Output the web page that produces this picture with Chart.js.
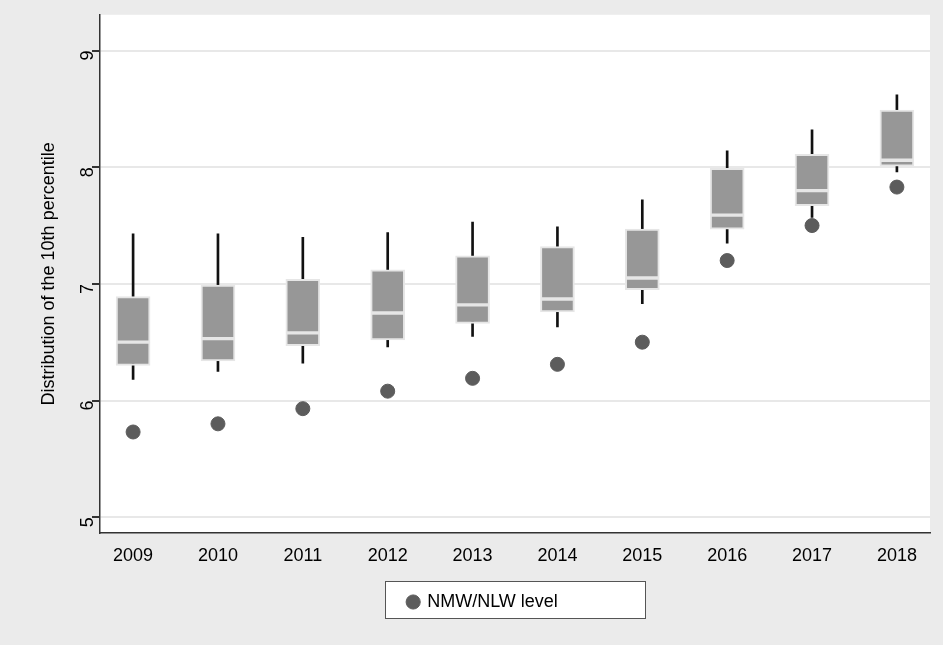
<!DOCTYPE html>
<html>
<head>
<meta charset="utf-8">
<script src="https://cdn.jsdelivr.net/npm/chart.js@4"></script>
<style>
  html, body { margin: 0; padding: 0; background: #ebebeb; }
  #wrap { width: 943px; height: 645px; }
</style>
</head>
<body>
<div id="wrap"><canvas id="grafico"></canvas></div>
<script>
// valores
const anos = [2009, 2010, 2011, 2012, 2013, 2014, 2015, 2016, 2017, 2018];
const bigodeSup = [7.43, 7.43, 7.40, 7.44, 7.53, 7.49, 7.72, 8.14, 8.32, 8.62];
const q3 = [6.89, 6.99, 7.04, 7.12, 7.24, 7.32, 7.47, 7.99, 8.11, 8.49];
const mediana = [6.50, 6.53, 6.58, 6.75, 6.82, 6.87, 7.05, 7.59, 7.80, 8.06];
const q1 = [6.30, 6.34, 6.47, 6.52, 6.66, 6.76, 6.95, 7.47, 7.67, 8.01];
const bigodeInf = [6.18, 6.25, 6.32, 6.46, 6.55, 6.63, 6.83, 7.35, 7.57, 7.96];
const nivelNMW = [5.73, 5.80, 5.93, 6.08, 6.19, 6.31, 6.50, 7.20, 7.50, 7.83];
const ticksY = [5, 6, 7, 8, 9];

// fundo branco só na área do gráfico + moldura da legenda
const fundo = {
  id: "fundo",
  beforeDraw(chart) {
    const { ctx, chartArea: a } = chart;
    ctx.save();
    ctx.fillStyle = "#ffffff";
    ctx.fillRect(a.left, a.top, a.right - a.left, a.bottom - a.top);
    const lg = chart.legend;
    ctx.fillRect(385, lg.top, 260, lg.height - 2);
    ctx.strokeStyle = "#555";
    ctx.lineWidth = 1;
    ctx.strokeRect(385.5, lg.top + 0.5, 260, lg.height - 3);
    ctx.restore();
  },
};

const serie = (arrA, arrB) => anos.map((a, i) => ({ x: a, y: [arrA[i], arrB[i]] }));

const grafico = new Chart(document.getElementById("grafico"), {
  data: {
    datasets: [
      {
        type: "scatter",
        label: "NMW/NLW level",
        data: anos.map((a, i) => ({ x: a, y: nivelNMW[i] })),
        pointRadius: 7,
        pointHoverRadius: 7,
        backgroundColor: "#5c5c5c",
        borderColor: "#5c5c5c",
        order: 0,
      },
      {
        type: "bar",
        label: "caixa baixa",
        data: serie(q1, mediana),
        backgroundColor: "#979797",
        borderColor: "#e6e6e6",
        borderWidth: 2,
        borderSkipped: false,
        barThickness: 34,
        grouped: false,
        order: 1,
      },
      {
        type: "bar",
        label: "caixa alta",
        data: serie(mediana, q3),
        backgroundColor: "#979797",
        borderColor: "#e6e6e6",
        borderWidth: 2,
        borderSkipped: false,
        barThickness: 34,
        grouped: false,
        order: 1,
      },
      {
        type: "bar",
        label: "bigode",
        data: serie(bigodeInf, bigodeSup),
        backgroundColor: "#111111",
        barThickness: 2,
        grouped: false,
        order: 2,
      },
    ],
  },
  options: {
    responsive: true,
    maintainAspectRatio: false,
    animation: false,
    layout: { padding: { top: 10, right: 13, left: 36, bottom: 24 } },
    plugins: {
      tooltip: { enabled: false },
      legend: {
        position: "bottom",
        labels: {
          filter: (item) => item.text === "NMW/NLW level",
          usePointStyle: true,
          pointStyle: "circle",
          boxWidth: 10,
          boxHeight: 10,
          color: "#000",
          font: { family: "Liberation Sans, Arial", size: 18 },
          padding: 12,
        },
      },
    },
    scales: {
      x: {
        type: "linear",
        offset: false,
        min: 2008.61,
        max: 2018.39,
        afterBuildTicks: (s) => { s.ticks = anos.map((v) => ({ value: v })); },
        afterFit: (s) => { s.height = 48; },
        grid: { display: false, drawTicks: true, tickLength: 8, tickColor: "#333" },
        border: { color: "#333", width: 1.5 },
        ticks: {
          callback: (v) => String(v),
          color: "#000",
          font: { family: "Liberation Sans, Arial", size: 18 },
          maxRotation: 0,
          padding: 4,
        },
      },
      y: {
        min: 4.864,
        max: 9.307,
        afterBuildTicks: (s) => { s.ticks = ticksY.map((v) => ({ value: v })); },
        afterFit: (s) => { s.width = 64; },
        grid: { color: "#e8e8e8", lineWidth: 2, tickColor: "#333", tickLength: 8 },
        border: { color: "#333", width: 1.5 },
        ticks: {
          color: "#000",
          font: { family: "Liberation Sans, Arial", size: 18 },
          minRotation: 90,
          maxRotation: 90,
          padding: 4,
        },
        title: {
          display: true,
          text: "Distribution of the 10th percentile",
          color: "#000",
          font: { family: "Liberation Sans, Arial", size: 18 },
          padding: 2,
        },
      },
    },
  },
  plugins: [fundo],
});
</script>
</body>
</html>
